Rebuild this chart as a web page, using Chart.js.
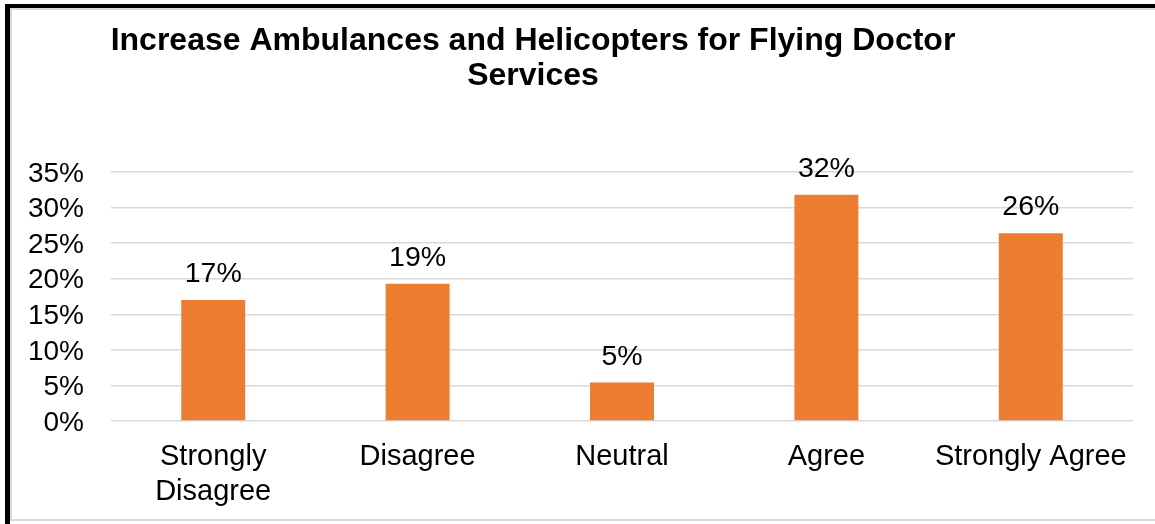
<!DOCTYPE html>
<html>
<head>
<meta charset="utf-8">
<script src="https://cdn.jsdelivr.net/npm/chart.js@4.4.1/dist/chart.umd.min.js"></script>
<style>
  html, body { margin: 0; padding: 0; background: #fff; }
  body { width: 1155px; height: 524px; position: relative; overflow: hidden; }
  .ln { position: absolute; }
  #wrap { position: absolute; left: 0; top: 0; width: 1155px; height: 524px; z-index: 2; }
</style>
</head>
<body>
<div class="ln" style="left:5px;top:4px;width:1150px;height:4px;background:#000;"></div>
<div class="ln" style="left:5px;top:4px;width:5px;height:520px;background:#000;"></div>
<div class="ln" style="left:10px;top:8px;width:1145px;height:2px;background:#d9d9d9;"></div>
<div class="ln" style="left:10px;top:8px;width:2px;height:513px;background:#d9d9d9;"></div>
<div class="ln" style="left:10px;top:519px;width:1145px;height:2px;background:#d9d9d9;"></div>
<div id="wrap"><canvas id="c" width="1155" height="524"></canvas></div>
<script>
const titleLines = ["Increase Ambulances and Helicopters for Flying Doctor", "Services"];
const categories = [["Strongly", "Disagree"], "Disagree", "Neutral", "Agree", "Strongly Agree"];
const percentValues = [17.0, 19.3, 5.4, 31.8, 26.4];
const yTicks = [0, 5, 10, 15, 20, 25, 30, 35];

const FONT = "'Liberation Sans', Arial, sans-serif";

const titlePlugin = {
  id: 'customTitle',
  afterDraw(chart) {
    const ctx = chart.ctx;
    ctx.save();
    ctx.fillStyle = '#000';
    ctx.font = "bold 32px " + FONT;
    ctx.textAlign = 'center';
    ctx.textBaseline = 'alphabetic';
    ctx.fillText(titleLines[0], 533, 50);
    ctx.fillText(titleLines[1], 533, 85);
    ctx.restore();
  }
};

const labelPlugin = {
  id: 'barLabels',
  afterDatasetsDraw(chart) {
    const ctx = chart.ctx;
    const meta = chart.getDatasetMeta(0);
    ctx.save();
    ctx.fillStyle = '#000';
    ctx.font = "28.5px " + FONT;
    ctx.textAlign = 'center';
    ctx.textBaseline = 'alphabetic';
    meta.data.forEach((bar, i) => {
      ctx.fillText(Math.round(percentValues[i]) + '%', bar.x, bar.y - 18);
    });
    ctx.restore();
  }
};

new Chart(document.getElementById('c'), {
  type: 'bar',
  data: {
    labels: categories,
    datasets: [{
      data: percentValues,
      backgroundColor: '#ED7D31',
      borderWidth: 0,
      barPercentage: 0.313,
      categoryPercentage: 1.0
    }]
  },
  options: {
    responsive: false,
    animation: false,
    devicePixelRatio: 1,
    layout: { padding: { top: 172, left: 0, right: 22, bottom: 0 } },
    plugins: {
      legend: { display: false },
      title: { display: false },
      tooltip: { enabled: false }
    },
    scales: {
      x: {
        grid: { display: false, drawTicks: false },
        border: { display: false },
        ticks: { color: '#000', font: { family: FONT, size: 29 }, padding: 19, maxRotation: 0, autoSkip: false },
        afterFit(scale) { scale.height = 103; }
      },
      y: {
        min: 0,
        max: 35,
        afterBuildTicks(scale) { scale.ticks = yTicks.map(v => ({ value: v })); },
        grid: { color: '#d9d9d9', lineWidth: 1.5, drawTicks: false },
        border: { display: false },
        ticks: { color: '#000', font: { family: FONT, size: 28 }, padding: 27, autoSkip: false, labelOffset: 2,
                 callback: v => v + '%' },
        afterFit(scale) { scale.width = 111; }
      }
    }
  },
  plugins: [titlePlugin, labelPlugin]
});
</script>
</body>
</html>
